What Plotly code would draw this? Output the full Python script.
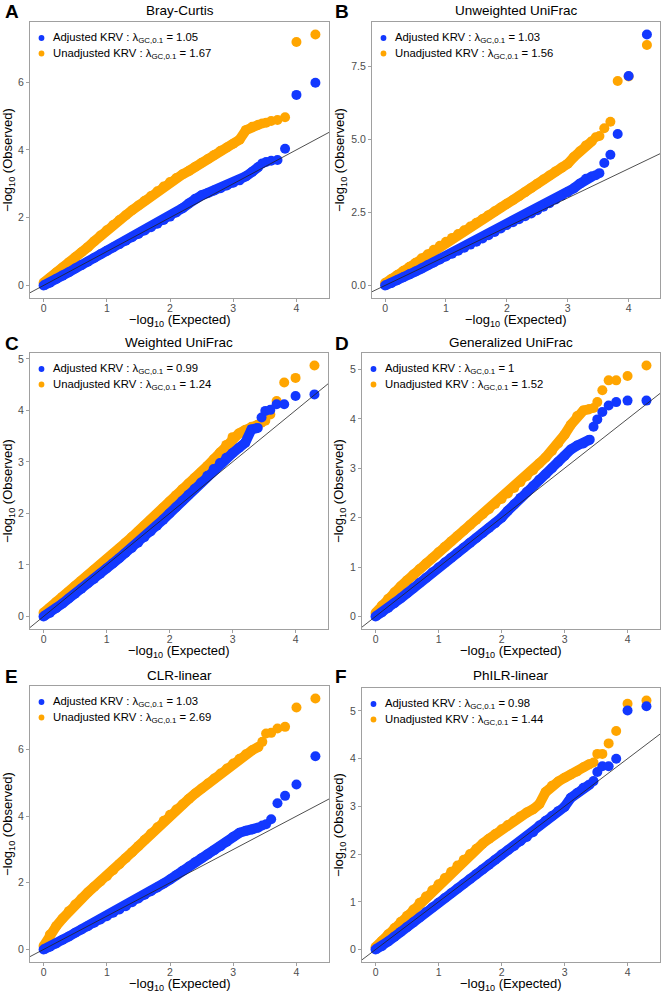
import plotly.graph_objects as go

# expected -log10(p) grid (dense part, then the separate tail points)
EXPECTED = [0.0, 0.1, 0.2, 0.3, 0.4, 0.5, 0.6, 0.7, 0.8, 0.9,
            1.0, 1.1, 1.2, 1.3, 1.4, 1.5, 1.6, 1.7, 1.8, 1.9,
            2.0, 2.1, 2.2, 2.3, 2.4, 2.5, 2.6, 2.7, 2.8, 2.9,
            3.0, 3.1, 3.2, 3.3, 3.4,
            3.46, 3.52, 3.6, 3.7, 3.82, 4.0, 4.3]
N_DENSE = 35

BRAY_ADJ = [0.0, 0.08, 0.19, 0.29, 0.39, 0.5, 0.6, 0.7, 0.81, 0.92,
            1.02, 1.12, 1.22, 1.32, 1.42, 1.52, 1.62, 1.72, 1.82, 1.93,
            2.03, 2.15, 2.28, 2.42, 2.56, 2.66, 2.73, 2.8, 2.87, 2.95,
            3.03, 3.1, 3.22, 3.35, 3.5,
            3.6, 3.64, 3.68, 3.7, 4.03, 5.62, 5.98]
BRAY_UNADJ = [0.08, 0.22, 0.38, 0.53, 0.68, 0.83, 0.98, 1.13, 1.3, 1.47,
              1.63, 1.78, 1.93, 2.07, 2.22, 2.36, 2.5, 2.64, 2.78, 2.92,
              3.05, 3.17, 3.28, 3.38, 3.5, 3.62, 3.73, 3.85, 3.97, 4.07,
              4.18, 4.3, 4.58, 4.68, 4.74,
              4.78, 4.8, 4.85, 4.88, 4.96, 7.18, 7.4]

UNW_ADJ = [0.0, 0.08, 0.18, 0.28, 0.38, 0.48, 0.58, 0.69, 0.79, 0.89,
           0.99, 1.09, 1.19, 1.29, 1.4, 1.5, 1.61, 1.72, 1.83, 1.95,
           2.07, 2.17, 2.27, 2.37, 2.47, 2.58, 2.7, 2.82, 2.95, 3.08,
           3.2, 3.33, 3.49, 3.66, 3.74,
           3.78, 3.85, 4.2, 4.48, 5.19, 7.18, 8.6]
UNW_UNADJ = [0.08, 0.22, 0.36, 0.5, 0.64, 0.78, 0.93, 1.07, 1.22, 1.36,
             1.5, 1.63, 1.76, 1.89, 2.02, 2.15, 2.28, 2.41, 2.54, 2.67,
             2.8, 2.93, 3.06, 3.2, 3.34, 3.49, 3.63, 3.77, 3.91, 4.04,
             4.17, 4.4, 4.6, 4.8, 4.95,
             5.08, 5.12, 5.39, 5.61, 7.01, 7.16, 8.24]

WUNI_ADJ = [0.0, 0.07, 0.16, 0.25, 0.35, 0.44, 0.54, 0.64, 0.73, 0.83,
            0.93, 1.03, 1.13, 1.23, 1.33, 1.43, 1.54, 1.65, 1.76, 1.88,
            2.0, 2.12, 2.24, 2.36, 2.48, 2.6, 2.73, 2.86, 2.98, 3.08,
            3.17, 3.27, 3.37, 3.63, 3.66,
            3.86, 3.99, 4.01, 4.12, 4.12, 4.28, 4.31]
WUNI_UNADJ = [0.07, 0.17, 0.28, 0.38, 0.48, 0.59, 0.69, 0.79, 0.9, 1.0,
              1.1, 1.21, 1.32, 1.43, 1.54, 1.65, 1.76, 1.87, 1.99, 2.11,
              2.23, 2.35, 2.47, 2.58, 2.69, 2.8, 2.92, 3.05, 3.18, 3.33,
              3.48, 3.55, 3.62, 3.68, 3.72,
              3.76, 3.8, 3.92, 4.18, 4.54, 4.63, 4.87]

GUNI_ADJ = [0.0, 0.08, 0.17, 0.27, 0.37, 0.47, 0.57, 0.68, 0.78, 0.89,
            0.99, 1.09, 1.19, 1.29, 1.39, 1.49, 1.59, 1.69, 1.79, 1.89,
            2.0, 2.14, 2.27, 2.4, 2.52, 2.64, 2.77, 2.88, 3.0, 3.13,
            3.25, 3.38, 3.46, 3.5, 3.58,
            3.84, 3.99, 4.14, 4.27, 4.34, 4.37, 4.37]
GUNI_UNADJ = [0.07, 0.22, 0.36, 0.49, 0.61, 0.73, 0.85, 0.96, 1.07, 1.18,
              1.3, 1.41, 1.52, 1.63, 1.74, 1.85, 1.96, 2.07, 2.17, 2.28,
              2.38, 2.49, 2.6, 2.72, 2.84, 2.96, 3.1, 3.22, 3.35, 3.5,
              3.68, 3.88, 4.06, 4.17, 4.2,
              4.22, 4.34, 4.58, 4.78, 4.78, 4.87, 5.08]

CLR_ADJ = [0.0, 0.08, 0.18, 0.29, 0.39, 0.5, 0.6, 0.7, 0.8, 0.9,
           1.0, 1.1, 1.2, 1.3, 1.42, 1.53, 1.64, 1.75, 1.86, 1.98,
           2.1, 2.23, 2.36, 2.49, 2.62, 2.74, 2.86, 2.98, 3.1, 3.23,
           3.38, 3.5, 3.56, 3.6, 3.66,
           3.72, 3.76, 3.91, 4.39, 4.61, 4.95, 5.8]
CLR_UNADJ = [0.1, 0.45, 0.7, 0.93, 1.15, 1.35, 1.53, 1.71, 1.88, 2.04,
             2.2, 2.38, 2.56, 2.74, 2.92, 3.1, 3.29, 3.48, 3.67, 3.86,
             4.04, 4.2, 4.36, 4.52, 4.68, 4.83, 4.98, 5.13, 5.28, 5.43,
             5.58, 5.72, 5.86, 5.98, 6.08,
             6.23, 6.48, 6.5, 6.63, 6.68, 7.26, 7.53]

PHILR_ADJ = [0.0, 0.07, 0.17, 0.27, 0.37, 0.47, 0.57, 0.67, 0.78, 0.88,
             0.98, 1.08, 1.18, 1.28, 1.38, 1.48, 1.58, 1.68, 1.78, 1.88,
             1.99, 2.08, 2.17, 2.27, 2.36, 2.46, 2.6, 2.7, 2.8, 2.9,
             2.99, 3.18, 3.28, 3.39, 3.46,
             3.53, 3.72, 3.84, 3.84, 4.0, 5.01, 5.1]
PHILR_UNADJ = [0.05, 0.18, 0.32, 0.45, 0.58, 0.71, 0.84, 0.98, 1.11, 1.24,
               1.37, 1.5, 1.63, 1.76, 1.88, 2.0, 2.11, 2.22, 2.32, 2.42,
               2.52, 2.61, 2.7, 2.79, 2.87, 2.94, 3.05, 3.3, 3.43, 3.52,
               3.6, 3.67, 3.73, 3.82, 3.89,
               3.92, 4.1, 4.1, 4.32, 4.58, 5.15, 5.22]

TITLES = ["Bray-Curtis", "Unweighted UniFrac", "Weighted UniFrac",
          "Generalized UniFrac", "CLR-linear", "PhILR-linear"]
LETTERS = ["A", "B", "C", "D", "E", "F"]
LAMBDA_ADJ = ["1.05", "1.03", "0.99", "1", "1.03", "0.98"]
LAMBDA_UNADJ = ["1.67", "1.56", "1.24", "1.52", "2.69", "1.44"]
ADJ_SERIES = [BRAY_ADJ, UNW_ADJ, WUNI_ADJ, GUNI_ADJ, CLR_ADJ, PHILR_ADJ]
UNADJ_SERIES = [BRAY_UNADJ, UNW_UNADJ, WUNI_UNADJ, GUNI_UNADJ, CLR_UNADJ, PHILR_UNADJ]
Y_TICKS = [[0, 2, 4, 6], [0, 2.5, 5, 7.5], [0, 1, 2, 3, 4, 5],
           [0, 1, 2, 3, 4, 5], [0, 2, 4, 6], [0, 1, 2, 3, 4, 5]]
Y_TICK_TEXT = [["0", "2", "4", "6"], ["0.0", "2.5", "5.0", "7.5"],
               ["0", "1", "2", "3", "4", "5"], ["0", "1", "2", "3", "4", "5"],
               ["0", "2", "4", "6"], ["0", "1", "2", "3", "4", "5"]]

W, H = 661, 992
# plot boxes in pixels: left, top, right, bottom
BOXES = [(30, 22, 329, 298), (372, 22, 660, 298),
         (30, 353, 328, 629), (362, 353, 660, 629),
         (30, 686, 329, 962), (362, 688, 660, 962)]
TITLE_Y = [10.5, 10.5, 342, 342, 675, 675]
LETTER_X = [3, 333, 3, 333, 3, 333]

BLUE = "#1238FF"
ORANGE = "#FFA500"
FONT = "Liberation Sans, Arial, Helvetica, sans-serif"
BORDER = "#a0a0a0"


def fx(px):
    return px / W


def fy(px):
    return 1 - px / H


def expanded(lo, hi, frac=0.05):
    pad = (hi - lo) * frac
    return [lo - pad, hi + pad]


fig = go.Figure()
annotations = []
shapes = []
layout = {}

for i in range(6):
    n = i + 1
    xa, ya = f"x{n}", f"y{n}"
    adj, unadj = ADJ_SERIES[i], UNADJ_SERIES[i]
    xr = expanded(min(EXPECTED), max(EXPECTED))
    yr = expanded(min(adj + unadj), max(adj + unadj))

    for ys, col, label in ((unadj, ORANGE, "Unadjusted KRV"), (adj, BLUE, "Adjusted KRV")):
        fig.add_trace(go.Scatter(
            x=EXPECTED[:N_DENSE], y=ys[:N_DENSE], mode="lines", xaxis=xa, yaxis=ya,
            line=dict(color=col, width=10), showlegend=False, hoverinfo="skip"))
        fig.add_trace(go.Scatter(
            x=EXPECTED, y=ys, mode="markers", xaxis=xa, yaxis=ya, name=label,
            marker=dict(color=col, size=10), showlegend=False))

    # y = x reference line across the panel
    fig.add_trace(go.Scatter(
        x=xr, y=xr, mode="lines", xaxis=xa, yaxis=ya,
        line=dict(color="#222222", width=0.8), showlegend=False, hoverinfo="skip"))

    l, t, r, b = BOXES[i]
    axis_common = dict(
        showline=True, mirror=True, linecolor=BORDER, linewidth=1,
        showgrid=False, zeroline=False, ticks="outside", ticklen=3,
        tickcolor=BORDER, tickwidth=1, automargin=False,
        tickfont=dict(size=10.5, color="#4d4d4d", family=FONT),
    )
    layout[f"xaxis{n}"] = dict(
        axis_common, domain=[fx(l), fx(r)], range=xr, anchor=ya,
        tickvals=[0, 1, 2, 3, 4], ticklabelstandoff=-3)
    layout[f"yaxis{n}"] = dict(
        axis_common, domain=[fy(b), fy(t)], range=yr, anchor=xa,
        tickvals=Y_TICKS[i], ticktext=Y_TICK_TEXT[i],
        title=dict(text="−log<sub>10</sub> (Observed)", standoff=3,
                   font=dict(size=13, color="black", family=FONT)))

    # x title placed directly under the tick labels (an axis title would be
    # squeezed against the bottom edge in the last row)
    annotations.append(dict(
        text="−log<sub>10</sub> (Expected)", x=fx((l + r) / 2), y=fy(b + 22.5),
        xref="paper", yref="paper", xanchor="center", yanchor="middle",
        showarrow=False, font=dict(size=13, color="black", family=FONT)))

    # legend keys and labels inside the panel's top-left corner
    entries = ((BLUE, f"Adjusted KRV : λ<sub>GC,0.1</sub> = {LAMBDA_ADJ[i]}", 16),
               (ORANGE, f"Unadjusted KRV : λ<sub>GC,0.1</sub> = {LAMBDA_UNADJ[i]}", 31.5))
    for col, label, dy in entries:
        cx, cy, rad = l + 11.5, t + dy, 2.9
        shapes.append(dict(type="circle", xref="paper", yref="paper",
                           x0=fx(cx - rad), x1=fx(cx + rad), y0=fy(cy + rad), y1=fy(cy - rad),
                           fillcolor=col, line=dict(width=0)))
        annotations.append(dict(
            text=label, x=fx(l + 21), y=fy(cy), xref="paper", yref="paper",
            xanchor="left", yanchor="middle", showarrow=False,
            font=dict(size=11.3, color="black", family=FONT)))

    annotations.append(dict(
        text=TITLES[i], x=fx((l + r) / 2), y=fy(TITLE_Y[i]), xref="paper", yref="paper",
        xanchor="center", yanchor="middle", showarrow=False,
        font=dict(size=13.5, color="black", family=FONT)))
    annotations.append(dict(
        text=f"<b>{LETTERS[i]}</b>", x=fx(LETTER_X[i]),
        y=fy(TITLE_Y[i] + 1.5), xref="paper", yref="paper",
        xanchor="left", yanchor="middle", showarrow=False,
        font=dict(size=19, color="black", family=FONT)))

fig.update_layout(
    width=W, height=H,
    margin=dict(l=0, r=0, t=0, b=0, autoexpand=False),
    paper_bgcolor="white", plot_bgcolor="white",
    font=dict(family=FONT),
    showlegend=False,
    annotations=annotations,
    shapes=shapes,
    **layout,
)

# the page's default body margin would push the figure 8px right and down
fig.write_html("out.html", config={"displayModeBar": False},
               post_script="document.body.style.margin = '0';")
